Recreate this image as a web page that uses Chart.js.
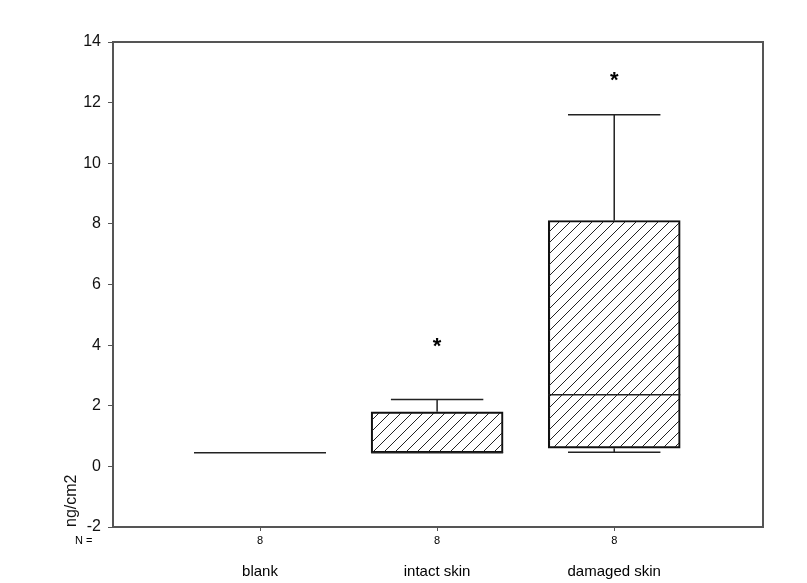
<!DOCTYPE html>
<html>
<head>
<meta charset="utf-8">
<script src="https://cdn.jsdelivr.net/npm/chart.js@4.4.0/dist/chart.umd.min.js"></script>
<style>
  body { margin: 0; background: #fff; }
  #wrap { width: 807px; height: 583px; }
</style>
</head>
<body>
<div id="wrap"><canvas id="boxChart" width="807" height="583"></canvas></div>
<script>
// datos
const categorias = ['blank', 'intact skin', 'damaged skin'];
const nCasos = [8, 8, 8];
const bigoteInf = [0.45, 0.45, 0.47];
const q1 = [0.45, 0.45, 0.60];
const mediana = [0.45, 0.45, 2.36];
const q3 = [0.45, 1.80, 8.11];
const bigoteSup = [0.45, 2.21, 11.60];
const atipicos = [[], [4.08], [12.86]];
const ticksY = [-2, 0, 2, 4, 6, 8, 10, 12, 14];

const FUENTE = "'Liberation Sans', Arial, sans-serif";
const ANCHO_CAJA = 132;

// patron rayado diagonal
function crearRayado() {
    const c = document.createElement('canvas');
    c.width = 11;
    c.height = 11;
    const g = c.getContext('2d');
    g.strokeStyle = '#222';
    g.lineWidth = 1;
    g.beginPath();
    g.moveTo(-1, 12); g.lineTo(12, -1);
    g.moveTo(-1, 1); g.lineTo(1, -1);
    g.moveTo(10, 12); g.lineTo(12, 10);
    g.stroke();
    return g.createPattern(c, 'repeat');
}

const pluginCaja = {
    id: 'pluginCaja',
    afterDatasetsDraw(chart) {
        const ctx = chart.ctx;
        const x = chart.scales.x;
        const y = chart.scales.y;
        const area = chart.chartArea;
        ctx.save();
        categorias.forEach((cat, i) => {
            const cx = x.getPixelForValue(i + 1);
            const half = ANCHO_CAJA / 2;
            const cap = ANCHO_CAJA * 0.35;
            ctx.strokeStyle = '#222';
            ctx.lineWidth = 1.5;
            ctx.beginPath();
            // bigote superior
            if (bigoteSup[i] > q3[i]) {
                ctx.moveTo(cx, y.getPixelForValue(q3[i]));
                ctx.lineTo(cx, y.getPixelForValue(bigoteSup[i]));
                ctx.moveTo(cx - cap, y.getPixelForValue(bigoteSup[i]));
                ctx.lineTo(cx + cap, y.getPixelForValue(bigoteSup[i]));
            }
            // bigote inferior
            if (bigoteInf[i] < q1[i]) {
                ctx.moveTo(cx, y.getPixelForValue(q1[i]));
                ctx.lineTo(cx, y.getPixelForValue(bigoteInf[i]));
                ctx.moveTo(cx - cap, y.getPixelForValue(bigoteInf[i]));
                ctx.lineTo(cx + cap, y.getPixelForValue(bigoteInf[i]));
            }
            // mediana
            ctx.moveTo(cx - half, y.getPixelForValue(mediana[i]));
            ctx.lineTo(cx + half, y.getPixelForValue(mediana[i]));
            ctx.stroke();

            // atipicos
            ctx.fillStyle = '#000';
            ctx.font = 'bold 22px ' + FUENTE;
            ctx.textAlign = 'center';
            ctx.textBaseline = 'alphabetic';
            const m = ctx.measureText('*');
            const off = (m.actualBoundingBoxAscent - m.actualBoundingBoxDescent) / 2;
            atipicos[i].forEach(v => {
                ctx.fillText('*', cx, y.getPixelForValue(v) + off);
            });

            // textos inferiores
            ctx.font = '11px ' + FUENTE;
            ctx.textBaseline = 'middle';
            ctx.fillText(String(nCasos[i]), cx, 541);
            ctx.font = '15px ' + FUENTE;
            ctx.fillText(cat, cx, 572);
        });
        ctx.font = '11px ' + FUENTE;
        ctx.textAlign = 'left';
        ctx.fillText('N =', 75, 541);

        // marco
        ctx.strokeStyle = '#555';
        ctx.lineWidth = 2;
        ctx.strokeRect(area.left, area.top, area.right - area.left, area.bottom - area.top);
        ctx.restore();
    }
};

window.onload = function() {
    const ctx = document.getElementById('boxChart').getContext('2d');

    new Chart(ctx, {
        type: 'bar',
        data: {
            datasets: [{
                label: '',
                data: categorias.map((c, i) => ({ x: i + 1, y: [q1[i], q3[i]] })),
                backgroundColor: crearRayado(),
                borderColor: '#111',
                borderWidth: 1.5,
                borderSkipped: false,
                barThickness: ANCHO_CAJA
            }]
        },
        options: {
            responsive: false,
            animation: false,
            layout: {
                padding: { top: 42, right: 44, left: 0, bottom: 0 }
            },
            scales: {
                x: {
                    type: 'linear',
                    min: 0.17,
                    max: 3.84,
                    offset: false,
                    afterBuildTicks: function(scale) {
                        scale.ticks = categorias.map((c, i) => ({ value: i + 1 }));
                    },
                    afterFit: function(scale) {
                        scale.height = 56;
                    },
                    ticks: { display: false },
                    grid: {
                        offset: false,
                        drawOnChartArea: false,
                        drawTicks: true,
                        tickLength: 4,
                        color: '#555'
                    },
                    border: { display: false }
                },
                y: {
                    min: -2,
                    max: 14,
                    afterBuildTicks: function(scale) {
                        scale.ticks = ticksY.map(v => ({ value: v }));
                    },
                    afterFit: function(scale) {
                        scale.width = 113;
                    },
                    title: {
                        display: true,
                        text: 'ng/cm2',
                        align: 'start',
                        color: '#111',
                        font: { size: 16, family: FUENTE },
                        padding: { top: 62, bottom: 0 }
                    },
                    ticks: {
                        color: '#111',
                        padding: 7,
                        font: { size: 16, family: FUENTE }
                    },
                    grid: {
                        drawOnChartArea: false,
                        drawTicks: true,
                        tickLength: 5,
                        color: '#555'
                    },
                    border: { display: false }
                }
            },
            plugins: {
                legend: { display: false },
                tooltip: { enabled: false },
                title: { display: false }
            }
        },
        plugins: [pluginCaja]
    });
};
</script>
</body>
</html>
